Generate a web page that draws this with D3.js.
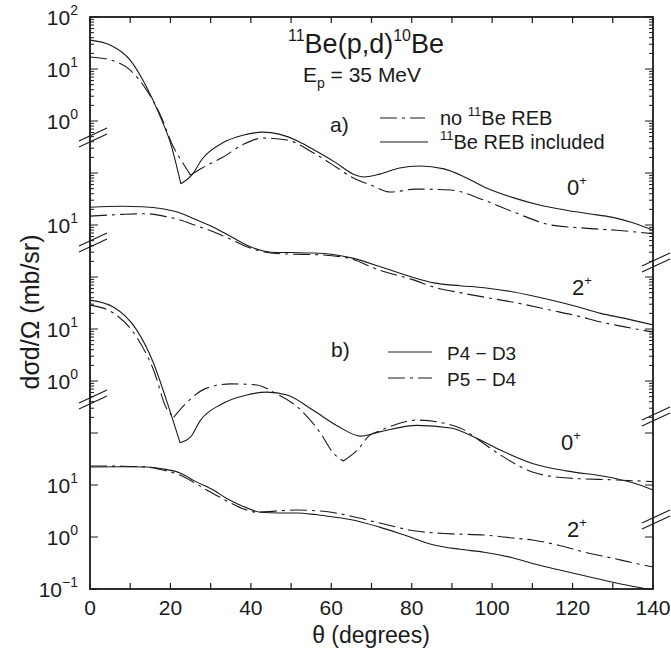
<!DOCTYPE html>
<html><head><meta charset="utf-8">
<script src="https://cdn.jsdelivr.net/npm/d3@7"></script>
<style>
body{margin:0;background:#fff}
text{font-family:"Liberation Sans",Arial,Helvetica,sans-serif;fill:#1a1a1a}
</style>
</head><body><svg id="c" width="671" height="655"></svg>
<script>
// ---------------- data (dσ/dΩ in mb/sr vs θ in degrees) ----------------
// Panel a) 0+ : 11Be REB included (solid) / no 11Be REB (dash-dot)
const thetaA0Solid = [0,5,10,14,17.5,20,22.6,25.3,28,33,38,43,47,52,56,61,65.5,68,72,77,82,88,93,98,105,112,118,124,130,135,140];
const a0Solid      = [36,29,14.8,4.6,1.2,0.38,0.062,0.091,0.19,0.38,0.53,0.61,0.56,0.40,0.27,0.16,0.095,0.084,0.095,0.125,0.136,0.12,0.085,0.054,0.034,0.024,0.0195,0.0165,0.014,0.011,0.0079];
const thetaA0Dash  = [0,5,10,14,17.5,20.7,23,25,28,33,38,43,49,55.6,60,65.5,70,74.7,81,89.7,98,106,114.6,123,131,140];
const a0Dash       = [17,15,9.5,4.0,1.3,0.32,0.16,0.091,0.126,0.20,0.35,0.47,0.43,0.243,0.15,0.08,0.058,0.043,0.049,0.047,0.030,0.017,0.0100,0.0087,0.0079,0.0068];
// Panel a) 2+
const thetaA2Solid = [0,8,13,18,22.4,26,30.7,35.7,40.7,45,50,55.6,60.5,65,73,80,85.5,92,98,105,114.6,121,127,133,140];
const a2Solid      = [22,23,22.5,20.5,17,13,9.1,5.6,3.6,3.0,2.95,2.9,2.7,2.33,1.5,1.0,0.77,0.68,0.62,0.52,0.36,0.27,0.20,0.16,0.12];
const thetaA2Dash  = [0,8,14,18,22.4,26,30.7,35,39,45,50,55.6,64,72,80,85.5,92,98,105,114.6,121,127,133,140];
const a2Dash       = [14.8,16,16.5,15,12.5,10,7.4,5.3,3.8,2.9,2.75,2.7,2.33,1.35,0.9,0.64,0.5,0.41,0.33,0.23,0.18,0.136,0.11,0.087];
// Panel b) 0+ : P4-D3 (solid) / P5-D4 (dash-dot)
const thetaB0Solid = [0,5.8,11.6,15.8,19,22.4,25,27.5,32.4,39,44,49,55.6,62,67.3,72,81.4,89.7,96,102,110,118.8,128.8,135,140];
const b0Solid      = [36,26.5,9.6,2.2,0.43,0.065,0.084,0.177,0.35,0.54,0.61,0.54,0.27,0.13,0.087,0.105,0.14,0.125,0.08,0.047,0.026,0.0185,0.0143,0.011,0.0080];
const thetaB0Dash  = [0,5.8,11.6,15.8,19,20.8,24,29,35,41.5,45.6,51.5,57.3,60.5,63,66.5,69.5,72,81.4,92,97,102,110,118.8,131,140];
const b0Dash       = [28.8,20.3,7.0,1.63,0.30,0.20,0.38,0.73,0.88,0.84,0.61,0.32,0.10,0.041,0.029,0.047,0.09,0.11,0.177,0.125,0.07,0.038,0.0178,0.0136,0.0125,0.0116];
// Panel b) 2+
const thetaB2Solid = [0,8,14,18,22.4,26,30.7,34,37.4,42.4,47,51.5,56,60,65,72,78,85,92,98,105,110,116,123,130,137,140];
const b2Solid      = [22.2,22.5,22.2,20.5,17,12,8.0,5.5,4.1,3.0,2.9,2.9,2.7,2.45,2.15,1.55,1.1,0.72,0.58,0.51,0.4,0.31,0.24,0.18,0.135,0.105,0.093];
const thetaB2Dash  = [0,8,14,18,22.4,26,29,32,35,38,41.5,46,51.5,56,60,65,72,81,90,98,105,110,117,123,130,135,140];
const b2Dash       = [23.2,23,22.2,19.5,15.5,11,8.0,6.0,4.5,3.5,3.0,3.15,3.3,3.2,3.0,2.5,1.86,1.3,1.15,1.09,0.96,0.875,0.68,0.51,0.39,0.32,0.265];
// angles where a curve has a sharp minimum (kink)
const cuspsA0Solid = [22.6], cuspsA0Dash = [25], cuspsB0Solid = [22.4], cuspsB0Dash = [20.8, 63];

// Each panel is shifted by a number of decades on one common log axis
const panelShift     = [8, 5, 3, 0];
const panelLabelExps = [[2,1,0],[1],[1,0],[1,0,-1]];
const stateLabels    = ["0","2","0","2"];
const xTickValues    = [0,20,40,60,80,100,120,140];
const legendA = ["no ", "Be REB included"];
// break positions on the common axis (log10 of scaled value)
const breaksLeft  = [7.673, 5.654, 2.635];
const breaksRight = [5.27, 2.31, 0.327];

// ---------------- layout ----------------
const L = 90, R = 653, T = 17, B = 589;
const svg = d3.select("#c");
const x = d3.scaleLinear().domain([0,140]).range([L,R]);
const y = d3.scaleLog().domain([1e-1,1e10]).range([B,T]);
const ink = "#1a1a1a";

svg.append("defs").append("clipPath").attr("id","clip")
  .append("rect").attr("x",L).attr("y",T).attr("width",R-L).attr("height",B-T);

const series = [
  {t:thetaA0Solid, v:a0Solid, p:0, dash:false, c:cuspsA0Solid},
  {t:thetaA0Dash,  v:a0Dash,  p:0, dash:true,  c:cuspsA0Dash},
  {t:thetaA2Solid, v:a2Solid, p:1, dash:false, c:[]},
  {t:thetaA2Dash,  v:a2Dash,  p:1, dash:true,  c:[]},
  {t:thetaB0Solid, v:b0Solid, p:2, dash:false, c:cuspsB0Solid},
  {t:thetaB0Dash,  v:b0Dash,  p:2, dash:true,  c:cuspsB0Dash},
  {t:thetaB2Solid, v:b2Solid, p:3, dash:false, c:[]},
  {t:thetaB2Dash,  v:b2Dash,  p:3, dash:true,  c:[]},
];
const DASH = "17,5,3,5";
const g = svg.append("g").attr("clip-path","url(#clip)");
const line = d3.line().x(d=>x(d[0])).y(d=>y(d[1])).curve(d3.curveMonotoneX);
series.forEach(s => {
  const f = Math.pow(10, panelShift[s.p]);
  const pts = s.t.map((t,i)=>[t, s.v[i]*f]);
  // split the curve at its kinks so each piece is smooth and the minimum stays sharp
  const segs = []; let cur = [];
  pts.forEach(p=>{
    cur.push(p);
    if (s.c.includes(p[0])) { segs.push(cur); cur = [p]; }
  });
  segs.push(cur);
  const d = segs.map(sg=>line(sg)).join("");
  g.append("path").attr("d", d).attr("fill","none").attr("stroke",ink)
    .attr("stroke-width",1.1).attr("stroke-linejoin","miter").attr("stroke-dasharray", s.dash?DASH:null);
});

// frame
svg.append("rect").attr("x",L).attr("y",T).attr("width",R-L).attr("height",B-T)
  .attr("fill","none").attr("stroke",ink).attr("stroke-width",1.8);

// x ticks (bottom & top), inward
d3.range(0,141,10).forEach(v=>{
  const len = 6;
  svg.append("line").attr("x1",x(v)).attr("x2",x(v)).attr("y1",B).attr("y2",B-len).attr("stroke",ink).attr("stroke-width",1.2);
  svg.append("line").attr("x1",x(v)).attr("x2",x(v)).attr("y1",T).attr("y2",T+len).attr("stroke",ink).attr("stroke-width",1.2);
});
xTickValues.forEach(v=>{
  svg.append("text").attr("x",x(v)).attr("y",615).attr("text-anchor","middle").attr("font-size",21).text(v);
});

// y ticks (left & right), inward
const yTicks = [];
for (let e=-1; e<10; e++) {
  yTicks.push({v:Math.pow(10,e), major:true});
  if (e>=2) for (let k=2;k<=9;k++) yTicks.push({v:k*Math.pow(10,e), major:false});
}
yTicks.push({v:1e10, major:true});
yTicks.forEach(t=>{
  const len = t.major?8:4;
  svg.append("line").attr("x1",L).attr("x2",L+len).attr("y1",y(t.v)).attr("y2",y(t.v)).attr("stroke",ink).attr("stroke-width",1);
  svg.append("line").attr("x1",R).attr("x2",R-len).attr("y1",y(t.v)).attr("y2",y(t.v)).attr("stroke",ink).attr("stroke-width",1);
});

// y tick labels
panelLabelExps.forEach((exps,p)=>{
  exps.forEach(ex=>{
    const yy = y(Math.pow(10, ex+panelShift[p]));
    const tx = svg.append("text").attr("x",78).attr("y",yy+7.5).attr("text-anchor","end").attr("font-size",21);
    tx.append("tspan").text("10");
    tx.append("tspan").attr("font-size",14).attr("dy",-10).text(ex<0 ? "\u2212"+(-ex) : ex);
  });
});

// axis breaks
function brk(cx, cy){
  [-3,3].forEach(o=>{
    svg.append("line").attr("x1",cx-13).attr("y1",cy+o+6).attr("x2",cx+15).attr("y2",cy+o-7)
      .attr("stroke",ink).attr("stroke-width",1.1);
  });
}
breaksLeft.forEach(e=>brk(L+2, y(Math.pow(10,e))));
breaksRight.forEach(e=>brk(R+2, y(Math.pow(10,e))));

// axis titles
svg.append("text").attr("x",371).attr("y",643).attr("text-anchor","middle").attr("font-size",23).text("\u03b8 (degrees)");
svg.append("text").attr("transform","translate(39,312) rotate(-90)").attr("text-anchor","middle").attr("font-size",25).text("d\u03c3d/\u03a9 (mb/sr)");

// title
const t1 = svg.append("text").attr("x",366).attr("y",53).attr("text-anchor","middle").attr("font-size",27);
t1.append("tspan").attr("font-size",16).attr("dy",-12).text("11");
t1.append("tspan").attr("dy",12).text("Be(p,d)");
t1.append("tspan").attr("font-size",16).attr("dy",-12).text("10");
t1.append("tspan").attr("dy",12).text("Be");
const t2 = svg.append("text").attr("x",362).attr("y",82).attr("text-anchor","middle").attr("font-size",21);
t2.append("tspan").text("E");
t2.append("tspan").attr("font-size",14).attr("dy",6).text("p");
t2.append("tspan").attr("dy",-6).text(" = 35 MeV");

// legend a)
svg.append("text").attr("x",330).attr("y",132).attr("font-size",21).text("a)");
svg.append("line").attr("x1",380).attr("x2",425).attr("y1",118).attr("y2",118).attr("stroke",ink).attr("stroke-width",1.1).attr("stroke-dasharray",DASH);
svg.append("line").attr("x1",380).attr("x2",428).attr("y1",142).attr("y2",142).attr("stroke",ink).attr("stroke-width",1.1);
const la1 = svg.append("text").attr("x",440).attr("y",125).attr("font-size",20);
la1.append("tspan").text(legendA[0]);
la1.append("tspan").attr("font-size",13).attr("dy",-9).text("11");
la1.append("tspan").attr("dy",9).text("Be REB");
const la2 = svg.append("text").attr("x",440).attr("y",149).attr("font-size",20);
la2.append("tspan").attr("font-size",13).attr("dy",-9).text("11");
la2.append("tspan").attr("dy",9).text(legendA[1]);

// legend b)
svg.append("text").attr("x",331).attr("y",357).attr("font-size",21).text("b)");
svg.append("line").attr("x1",388).attr("x2",432).attr("y1",352).attr("y2",352).attr("stroke",ink).attr("stroke-width",1.1);
svg.append("line").attr("x1",388).attr("x2",432).attr("y1",378).attr("y2",378).attr("stroke",ink).attr("stroke-width",1.1).attr("stroke-dasharray",DASH);
svg.append("text").attr("x",447).attr("y",360).attr("font-size",19).text("P4 \u2212 D3");
svg.append("text").attr("x",447).attr("y",386).attr("font-size",19).text("P5 \u2212 D4");

// state labels
const statePos = [[567,195],[572,295],[561,450],[567,537]];
stateLabels.forEach((s,i)=>{
  const tx = svg.append("text").attr("x",statePos[i][0]).attr("y",statePos[i][1]).attr("font-size",22);
  tx.append("tspan").text(s);
  tx.append("tspan").attr("font-size",13).attr("dy",-10).text("+");
});
</script></body></html>
